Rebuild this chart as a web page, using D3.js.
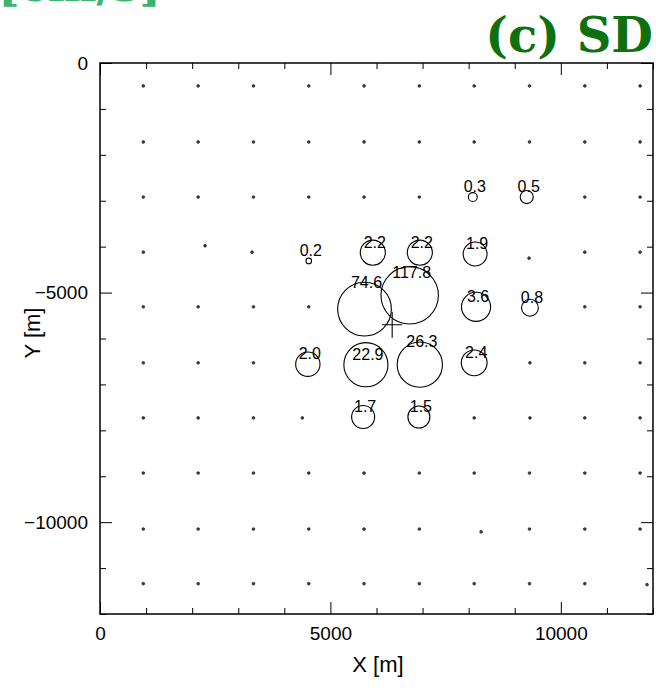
<!DOCTYPE html>
<html>
<head>
<meta charset="utf-8">
<script src="https://cdn.jsdelivr.net/npm/d3@7"></script>
<style>
  body { margin: 0; background: #fff; }
  svg { display: block; }
</style>
</head>
<body>
<svg id="viz" width="656" height="688"></svg>
<script>
var width = 656;
var height = 688;

// stations without a value (x, y in metres), row by row
var plainStations = [
  [940, -500], [2130, -500], [3330, -500], [4530, -500], [5730, -500], [6930, -500], [8120, -500], [9320, -500], [10520, -500], [11720, -500],
  [940, -1720], [2130, -1720], [3330, -1720], [4530, -1720], [5730, -1720], [6930, -1720], [8120, -1720], [9320, -1720], [10520, -1720], [11720, -1720],
  [940, -2920], [2130, -2920], [3330, -2920], [4530, -2920], [5730, -2920], [6930, -2920], [10520, -2920], [11720, -2920],
  [940, -4120], [2280, -3980], [3300, -4120], [9310, -4250], [10520, -4120], [11720, -4120],
  [940, -5310], [2130, -5310], [3330, -5310], [4530, -5310], [10520, -5310], [11720, -5310],
  [940, -6530], [2130, -6530], [3330, -6530], [9330, -6530], [10520, -6530], [11720, -6530],
  [940, -7730], [2130, -7730], [3330, -7730], [4390, -7730], [8120, -7730], [9330, -7730], [10520, -7730], [11720, -7730],
  [940, -8930], [2130, -8930], [3330, -8930], [4530, -8930], [5730, -8930], [6930, -8930], [8120, -8930], [9320, -8930], [10520, -8930], [11720, -8930],
  [940, -10150], [2130, -10150], [3330, -10150], [4530, -10150], [5730, -10150], [6930, -10150], [8270, -10210], [9320, -10150], [10520, -10150], [11720, -10150],
  [940, -11340], [2130, -11340], [3330, -11340], [4530, -11340], [5730, -11340], [6930, -11340], [8120, -11340], [9320, -11340], [10520, -11340], [11870, -11360]
];

// stations with an SD value
var sdX = [8090, 9260, 4530, 5920, 6940, 8140, 5740, 6720, 8160, 9330, 4510, 5770, 6940, 8120, 5710, 6920];
var sdY = [-2920, -2920, -4310, -4130, -4130, -4160, -5360, -5060, -5310, -5330, -6560, -6570, -6570, -6530, -7710, -7710];
var sdVal = [0.3, 0.5, 0.2, 2.2, 2.2, 1.9, 74.6, 117.8, 3.6, 0.8, 2.0, 22.9, 26.3, 2.4, 1.7, 1.5];

// source location
var source = [6340, -5700];

var xTicks = [0, 1000, 2000, 3000, 4000, 5000, 6000, 7000, 8000, 9000, 10000, 11000, 12000];
var yTicks = [0, -1000, -2000, -3000, -4000, -5000, -6000, -7000, -8000, -9000, -10000, -11000, -12000];
var labelledTicks = [0, 5000, 10000, -5000, -10000];

// a few labels sit higher to keep clear of the big circles (px)
var labelLift = { 6: 21, 7: 17, 12: 18 };

var svg = d3.select("#viz");

var x = d3.scaleLinear().domain([0, 12000]).range([100, 653]);
var y = d3.scaleLinear().domain([0, -12000]).range([63, 614]);
var r = d3.scaleLog().domain([0.1, 1000]).range([0, 37.4]);

var fmt = d3.format("d");
function tickFmt(d) {
    return labelledTicks.indexOf(d) >= 0 ? fmt(d) : "";
}

// panel titles (the first one is cut off by the top edge, as in the source figure)
svg.append("text")
    .attr("x", -2).attr("y", 1)
    .style("font-family", "DejaVu Serif")
    .style("font-weight", "bold")
    .style("font-size", "46px")
    .style("fill", "#3cb371")
    .text("[cm/s]");

svg.append("text")
    .attr("x", 653).attr("y", 52)
    .attr("text-anchor", "end")
    .style("font-family", "DejaVu Serif")
    .style("font-weight", "bold")
    .style("font-size", "48px")
    .style("fill", "#0f700f")
    .text("(c) SD");

// axes
function styleAxis(g) {
    g.select(".domain").remove();
    g.selectAll("line").attr("stroke", "#000").attr("stroke-width", 1);
    g.selectAll("text")
        .style("font-family", "Liberation Sans, Arial, sans-serif")
        .style("font-size", "19px")
        .style("fill", "#000");
}

var gx = svg.append("g")
    .attr("transform", "translate(0," + y(-12000) + ")")
    .call(d3.axisBottom(x).tickValues(xTicks).tickSize(-6).tickPadding(13).tickFormat(tickFmt))
    .call(styleAxis);
gx.selectAll(".tick line").filter(function (d) { return d % 5000 === 0; }).attr("y2", -12);

var gxt = svg.append("g")
    .attr("transform", "translate(0," + y(0) + ")")
    .call(d3.axisTop(x).tickValues(xTicks).tickSize(-6).tickFormat(""))
    .call(styleAxis);
gxt.selectAll(".tick line").filter(function (d) { return d % 5000 === 0; }).attr("y2", 12);

var gy = svg.append("g")
    .attr("transform", "translate(" + x(0) + ",0)")
    .call(d3.axisLeft(y).tickValues(yTicks).tickSize(-6).tickPadding(12).tickFormat(tickFmt))
    .call(styleAxis);
gy.selectAll(".tick line").filter(function (d) { return d % 5000 === 0; }).attr("x2", 12);

var gyr = svg.append("g")
    .attr("transform", "translate(" + x(12000) + ",0)")
    .call(d3.axisRight(y).tickValues(yTicks).tickSize(-6).tickFormat(""))
    .call(styleAxis);
gyr.selectAll(".tick line").filter(function (d) { return d % 5000 === 0; }).attr("x2", -12);

// frame
svg.append("rect")
    .attr("x", x(0)).attr("y", y(0))
    .attr("width", x(12000) - x(0))
    .attr("height", y(-12000) - y(0))
    .attr("fill", "none")
    .attr("stroke", "#000")
    .attr("stroke-width", 1.5);

// axis titles
svg.append("text")
    .attr("x", 378).attr("y", 672)
    .attr("text-anchor", "middle")
    .style("font-family", "Liberation Sans, Arial, sans-serif")
    .style("font-size", "22px")
    .text("X [m]");

svg.append("text")
    .attr("transform", "translate(40,333) rotate(-90)")
    .attr("text-anchor", "middle")
    .style("font-family", "Liberation Sans, Arial, sans-serif")
    .style("font-size", "22px")
    .text("Y [m]");

// plain stations
svg.append("g").selectAll("circle")
    .data(plainStations)
    .enter()
    .append("circle")
    .attr("cx", function (d) { return x(d[0]); })
    .attr("cy", function (d) { return y(d[1]); })
    .attr("r", 1.4)
    .attr("fill", "#444")
    .attr("stroke", "#111")
    .attr("stroke-width", 0.6);

// SD circles
var sd = sdVal.map(function (v, i) { return { v: v, x: sdX[i], y: sdY[i], i: i }; });

svg.append("g").selectAll("circle")
    .data(sd)
    .enter()
    .append("circle")
    .attr("cx", function (d) { return x(d.x); })
    .attr("cy", function (d) { return y(d.y); })
    .attr("r", function (d) { return r(d.v); })
    .attr("fill", "none")
    .attr("stroke", "#000")
    .attr("stroke-width", 1.1);

svg.append("g").selectAll("text")
    .data(sd)
    .enter()
    .append("text")
    .attr("x", function (d) { return x(d.x) + 2; })
    .attr("y", function (d) { return y(d.y) - (labelLift[d.i] || 5); })
    .attr("text-anchor", "middle")
    .style("font-family", "Liberation Sans, Arial, sans-serif")
    .style("font-size", "16px")
    .style("fill", "#000")
    .text(function (d) { return d3.format(".1f")(d.v); });

// source marker
var sx = x(source[0]), sy = y(source[1]);
svg.append("path")
    .attr("d", "M" + (sx - 10) + "," + sy + "H" + (sx + 10) + "M" + sx + "," + (sy - 13) + "V" + (sy + 13))
    .attr("stroke", "#000")
    .attr("stroke-width", 1.1)
    .attr("fill", "none");
</script>
</body>
</html>
